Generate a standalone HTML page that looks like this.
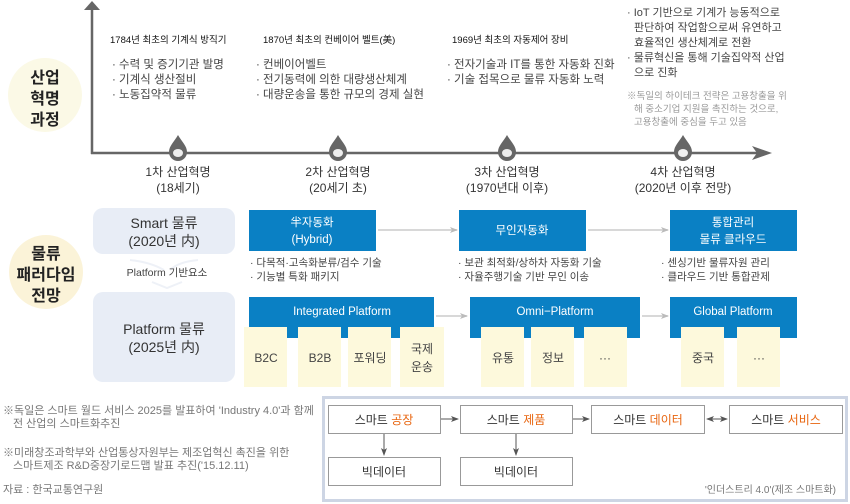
<!DOCTYPE html>
<html><head><meta charset="utf-8"><style>
html,body{margin:0;padding:0;background:#fff;}
svg{display:block;font-family:"Liberation Sans","Noto Sans CJK KR",sans-serif;}
</style></head><body>
<svg width="850" height="504" viewBox="0 0 850 504" xmlns="http://www.w3.org/2000/svg">
<defs>
<g id="drop"><path d="M0,-17 C4,-10 9,-6 9,0 A9,9 0 0 1 -9,0 C-9,-6 -4,-10 0,-17Z" fill="#666"/><ellipse cx="0" cy="1" rx="5" ry="4" fill="#eee"/></g>
<marker id="ar" markerWidth="8" markerHeight="8" refX="7" refY="4" orient="auto" markerUnits="userSpaceOnUse"><path d="M0,1 L8,4 L0,7 L2,4Z" fill="#bbb"/></marker>
<marker id="ad" markerWidth="8" markerHeight="8" refX="7" refY="4" orient="auto" markerUnits="userSpaceOnUse"><path d="M0,1 L8,4 L0,7 L2,4Z" fill="#555"/></marker>
<marker id="as" markerWidth="8" markerHeight="8" refX="1" refY="4" orient="auto" markerUnits="userSpaceOnUse"><path d="M8,1 L0,4 L8,7 L6,4Z" fill="#555"/></marker>
</defs>
<circle cx="45" cy="95" r="37" fill="#fbf9e6"/>
<g font-size="16" font-weight="bold" fill="#222" text-anchor="middle">
<text x="45" y="83">산업</text><text x="45" y="104">혁명</text><text x="45" y="125">과정</text></g>
<circle cx="46" cy="272" r="37" fill="#fbf3d8"/>
<g font-size="16" font-weight="bold" fill="#222" text-anchor="middle">
<text x="46" y="259">물류</text><text x="46" y="280">패러다임</text><text x="46" y="301">전망</text></g>
<line x1="92" y1="8" x2="92" y2="154" stroke="#666" stroke-width="2.5"/>
<path d="M84,10 L92,1 L100,10Z" fill="#666"/>
<line x1="91" y1="153" x2="760" y2="153" stroke="#666" stroke-width="2.5"/>
<path d="M752,146 L772,153 L752,160 L757,153Z" fill="#666"/>
<use href="#drop" x="178" y="152"/><use href="#drop" x="338" y="152"/>
<use href="#drop" x="507" y="152"/><use href="#drop" x="683" y="152"/>
<g font-size="12" fill="#333" text-anchor="middle">
<text x="178" y="176">1차 산업혁명</text><text x="178" y="192">(18세기)</text>
<text x="338" y="176">2차 산업혁명</text><text x="338" y="192">(20세기 초)</text>
<text x="507" y="176">3차 산업혁명</text><text x="507" y="192">(1970년대 이후)</text>
<text x="683" y="176">4차 산업혁명</text><text x="683" y="192">(2020년 이후 전망)</text></g>
<g font-size="9.5" fill="#111">
<text x="110" y="43">1784년 최초의 기계식 방직기</text>
<text x="263" y="43">1870년 최초의 컨베이어 벨트(美)</text>
<text x="452" y="43">1969년 최초의 자동제어 장비</text></g>
<g font-size="11.5" fill="#444">
<text x="112" y="68">· 수력 및 증기기관 발명</text>
<text x="112" y="83">· 기계식 생산절비</text>
<text x="112" y="98">· 노동집약적 물류</text>
<text x="256" y="68">· 컨베이어벨트</text>
<text x="256" y="83">· 전기동력에 의한 대량생산체계</text>
<text x="256" y="98">· 대량운송을 통한 규모의 경제 실현</text>
<text x="447" y="68">· 전자기술과 IT를 통한 자동화 진화</text>
<text x="447" y="83">· 기술 접목으로 물류 자동화 노력</text></g>
<g font-size="11" fill="#444">
<text x="627" y="16">· IoT 기반으로 기계가 능동적으로</text>
<text x="634" y="31">판단하여 작업함으로써 유연하고</text>
<text x="634" y="46">효율적인 생산체계로 전환</text>
<text x="627" y="61">· 물류혁신을 통해 기술집약적 산업</text>
<text x="634" y="76">으로 진화</text></g>
<g font-size="9.5" fill="#999">
<text x="627" y="99">※독일의 하이테크 전략은 고용창출을 위</text>
<text x="634" y="112">해 중소기업 지원을 촉진하는 것으로,</text>
<text x="634" y="125">고용창출에 중심을 두고 있음</text></g>
<rect x="93" y="208" width="142" height="46" rx="10" fill="#e8edf6"/>
<rect x="93" y="292" width="142" height="90" rx="10" fill="#e8edf6"/>
<path d="M130,260 Q150,262 164,270" fill="none" stroke="#eef1f7" stroke-width="2"/>
<path d="M198,260 Q178,262 170,270" fill="none" stroke="#eef1f7" stroke-width="2"/>
<path d="M152,282 L167,288 L182,282" fill="none" stroke="#eef1f7" stroke-width="2"/>
<g font-size="14" fill="#333" text-anchor="middle">
<text x="164" y="228">Smart 물류</text><text x="164" y="246">(2020년 内)</text>
<text x="164" y="334">Platform 물류</text><text x="164" y="352">(2025년 内)</text></g>
<text x="167" y="276" font-size="10.5" fill="#444" text-anchor="middle">Platform 기반요소</text>
<rect x="249" y="210" width="127" height="41" fill="#0a80c4"/>
<rect x="459" y="210" width="127" height="41" fill="#0a80c4"/>
<rect x="670" y="210" width="127" height="41" fill="#0a80c4"/>
<g font-size="11.5" fill="#fff" text-anchor="middle">
<text x="312" y="226">半자동화</text><text x="312" y="243">(Hybrid)</text>
<text x="522" y="234">무인자동화</text>
<text x="733" y="226">통합관리</text><text x="733" y="243">물류 클라우드</text></g>
<line x1="378" y1="230" x2="457" y2="230" stroke="#ccc" stroke-width="1.5" marker-end="url(#ar)"/>
<line x1="588" y1="230" x2="668" y2="230" stroke="#ccc" stroke-width="1.5" marker-end="url(#ar)"/>
<g font-size="10.5" fill="#444">
<text x="250" y="266">· 다목적·고속화분류/검수 기술</text>
<text x="250" y="280">· 기능별 특화 패키지</text>
<text x="458" y="266">· 보관 최적화/상하차 자동화 기술</text>
<text x="458" y="280">· 자율주행기술 기반 무인 이송</text>
<text x="661" y="266">· 센싱기반 물류자원 관리</text>
<text x="661" y="280">· 클라우드 기반 통합관제</text></g>
<rect x="249" y="297" width="185" height="41" fill="#0a80c4"/>
<rect x="470" y="297" width="170" height="41" fill="#0a80c4"/>
<rect x="670" y="297" width="127" height="41" fill="#0a80c4"/>
<g font-size="11.5" fill="#fff" text-anchor="middle">
<text x="342" y="315">Integrated Platform</text>
<text x="555" y="315">Omni−Platform</text>
<text x="733" y="315">Global Platform</text></g>
<line x1="436" y1="316" x2="467" y2="316" stroke="#ccc" stroke-width="1.5" marker-end="url(#ar)"/>
<line x1="642" y1="316" x2="668" y2="316" stroke="#ccc" stroke-width="1.5" marker-end="url(#ar)"/>
<g fill="#fdf9dc">
<rect x="244" y="327" width="43" height="60"/><rect x="298" y="327" width="43" height="60"/>
<rect x="348" y="327" width="43" height="60"/><rect x="400" y="327" width="44" height="60"/>
<rect x="481" y="327" width="43" height="60"/><rect x="531" y="327" width="43" height="60"/>
<rect x="584" y="327" width="43" height="60"/>
<rect x="681" y="327" width="43" height="60"/><rect x="737" y="327" width="43" height="60"/></g>
<g font-size="12" fill="#444" text-anchor="middle">
<text x="266" y="362">B2C</text><text x="320" y="362">B2B</text><text x="370" y="362">포워딩</text>
<text x="422" y="353">국제</text><text x="422" y="371">운송</text>
<text x="503" y="362">유통</text><text x="553" y="362">정보</text><text x="605" y="362">···</text>
<text x="703" y="362">중국</text><text x="759" y="362">···</text></g>
<g font-size="11" fill="#777">
<text x="3" y="414">※독일은 스마트 월드 서비스 2025를 발표하여 'Industry 4.0'과 함께</text>
<text x="13" y="427">전 산업의 스마트화추진</text>
<text x="3" y="456">※미래창조과학부와 산업통상자원부는 제조업혁신 촉진을 위한</text>
<text x="13" y="469">스마트제조 R&amp;D중장기로드맵 발표 추진('15.12.11)</text>
<text x="3" y="493">자료 : 한국교통연구원</text></g>
<rect x="323.5" y="397.5" width="523" height="103" fill="#fff" stroke="#cdd5e4" stroke-width="3"/>
<g fill="#fff" stroke="#999" stroke-width="1">
<rect x="328.5" y="405.5" width="112" height="28"/><rect x="460.5" y="405.5" width="112" height="28"/>
<rect x="591.5" y="405.5" width="113" height="28"/><rect x="729.5" y="405.5" width="113" height="28"/>
<rect x="328.5" y="457.5" width="112" height="28"/><rect x="460.5" y="457.5" width="112" height="28"/></g>
<g stroke="#555" stroke-width="1">
<line x1="441" y1="419" x2="458" y2="419" marker-end="url(#ad)"/>
<line x1="573" y1="419" x2="589" y2="419" marker-end="url(#ad)"/>
<line x1="707" y1="419" x2="727" y2="419" marker-end="url(#ad)" marker-start="url(#as)"/>
<line x1="384" y1="434" x2="384" y2="455" marker-end="url(#ad)"/>
<line x1="516" y1="434" x2="516" y2="455" marker-end="url(#ad)"/></g>
<g font-size="12" fill="#333" text-anchor="middle">
<text x="384" y="424">스마트 <tspan fill="#e8650f">공장</tspan></text>
<text x="516" y="424">스마트 <tspan fill="#e8650f">제품</tspan></text>
<text x="648" y="424">스마트 <tspan fill="#e8650f">데이터</tspan></text>
<text x="786" y="424">스마트 <tspan fill="#e8650f">서비스</tspan></text>
<text x="384" y="476">빅데이터</text><text x="516" y="476">빅데이터</text></g>
<text x="836" y="493" font-size="10" fill="#777" text-anchor="end">'인더스트리 4.0'(제조 스마트화)</text>
</svg>
</body></html>
